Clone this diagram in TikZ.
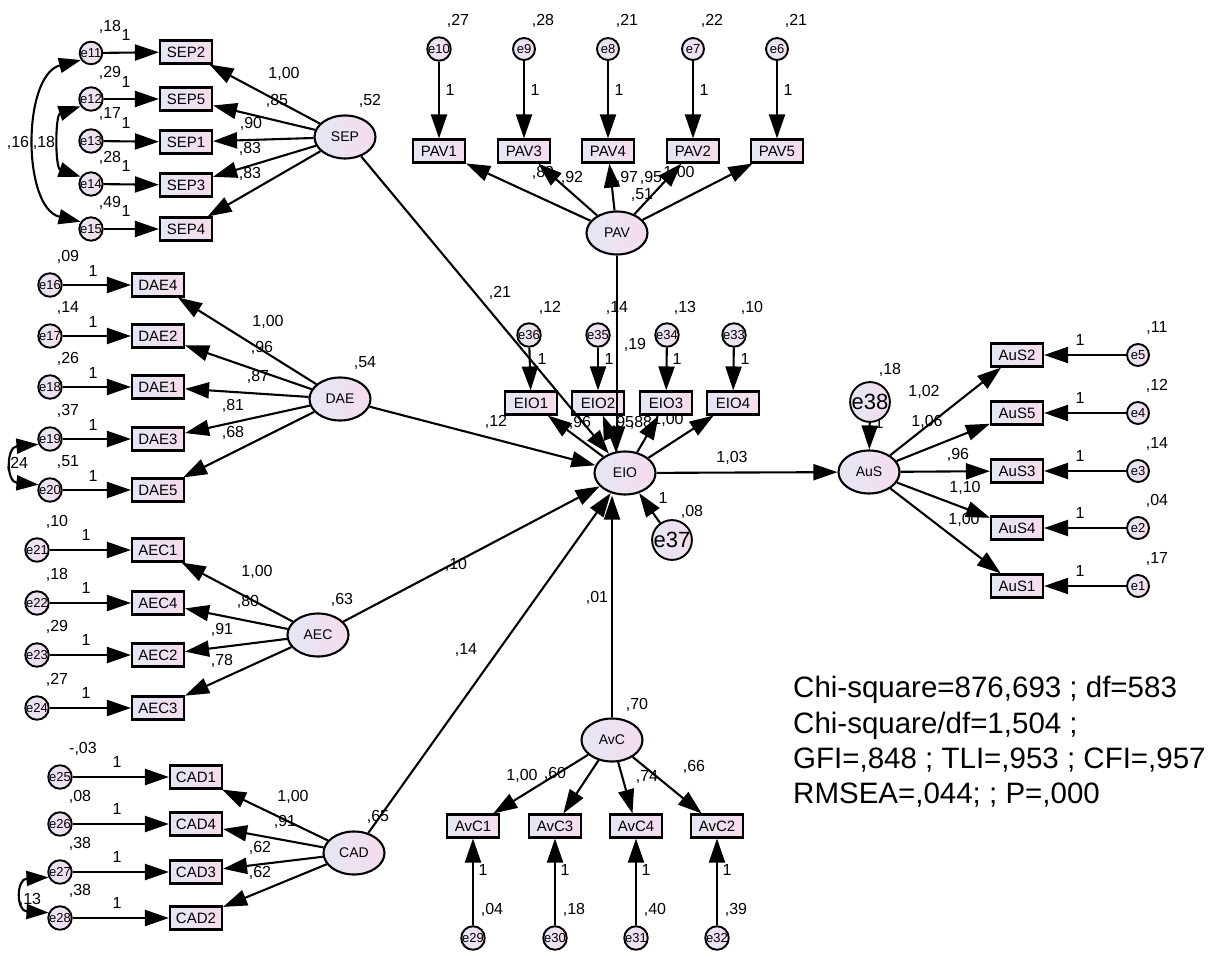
\documentclass[tikz,border=0pt]{standalone}
\usepackage{fontspec}
\setmainfont{Liberation Sans}
\usetikzlibrary{arrows.meta,shapes.geometric}
\definecolor{lc}{RGB}{228,231,244}
\definecolor{rc}{RGB}{245,220,236}
\begin{document}
\begin{tikzpicture}[x=1pt,y=-1pt,
  obs/.style={draw, line width=2.1pt, rectangle, minimum width=52pt, minimum height=23pt, inner sep=0pt, left color=lc, right color=rc, font=\fontsize{15}{15}\selectfont},
  lat/.style={draw, ellipse, line width=2.1pt, minimum width=61pt, minimum height=43pt, inner sep=0pt, left color=lc, right color=rc, font=\fontsize{14}{14}\selectfont},
  err/.style={draw, circle, line width=1.9pt, minimum size=22pt, inner sep=0pt, left color=lc, right color=rc, font=\fontsize{13}{13}\selectfont},
  bigerr/.style={err, minimum size=31pt, font=\fontsize{22}{22}\selectfont},
  lbl/.style={font=\fontsize{16}{16}\selectfont, inner sep=0pt},
  fit/.style={font=\fontsize{29.5}{29.5}\selectfont, inner sep=0pt, anchor=base west},
  path/.style={line width=2.1pt, -{Triangle[length=24pt,width=16pt]}},
  cov/.style={line width=2.1pt, {Triangle[length=22pt,width=15pt]}-{Triangle[length=22pt,width=15pt]}}
]
\fill[white] (0,0) rectangle (1228,957);
\useasboundingbox (0,0) rectangle (1228,957);

% ---------- labels (drawn first so connectors overlap them) ----------
% SEP
\node[lbl] (l1) at (110,27) {,18}; \node[lbl] (l2) at (126,35) {1};
\node[lbl] (l3) at (110,73) {,29}; \node[lbl] (l4) at (126,82) {1};
\node[lbl] (l5) at (110,114) {,17}; \node[lbl] (l6) at (126,123) {1};
\node[lbl] (l7) at (110,158) {,28}; \node[lbl] (l8) at (126,166) {1};
\node[lbl] (l9) at (110,203) {,49}; \node[lbl] (l10) at (126,211) {1};
\node[lbl] (l11) at (284,74) {1,00};
\node[lbl] (l12) at (277,101) {,85};
\node[lbl] (l13) at (251,124) {,90};
\node[lbl] (l14) at (250,149) {,83};
\node[lbl] (l15) at (250,174) {,83};
\node[lbl] (l16) at (370,101) {,52};
\node[lbl] (l17) at (18,143) {,16};
\node[lbl] (l18) at (44,143) {,18};
% PAV
\node[lbl] (p1) at (458,21) {,27}; \node[lbl] (p2) at (450,90) {1};
\node[lbl] (p3) at (543,21) {,28}; \node[lbl] (p4) at (535,90) {1};
\node[lbl] (p5) at (627,21) {,21}; \node[lbl] (p6) at (619,90) {1};
\node[lbl] (p7) at (712,21) {,22}; \node[lbl] (p8) at (704,90) {1};
\node[lbl] (p9) at (796,21) {,21}; \node[lbl] (p10) at (788,90) {1};
\node[lbl] (p11) at (543,173) {,89};
\node[lbl] (p12) at (572,178) {,92};
\node[lbl] (p13) at (627,178) {,97};
\node[lbl] (p14) at (651,178) {,95};
\node[lbl] (p15) at (679,173) {1,00};
\node[lbl] (p16) at (642,195) {,51};
% EIO
\node[lbl] (q1) at (550,308) {,12}; \node[lbl] (q2) at (542,359) {1};
\node[lbl] (q3) at (617,308) {,14}; \node[lbl] (q4) at (609,359) {1};
\node[lbl] (q5) at (685,308) {,13}; \node[lbl] (q6) at (677,359) {1};
\node[lbl] (q7) at (752,308) {,10}; \node[lbl] (q8) at (745,359) {1};
\node[lbl] (q9) at (580,423) {,96};
\node[lbl] (q10) at (623,423) {,95};
\node[lbl] (q11) at (641,423) {,88};
\node[lbl] (q12) at (668,420) {1,00};
\node[lbl] (q13) at (635,345) {,19};
\node[lbl] (q14) at (663,498) {1};
\node[lbl] (q15) at (692,512) {,08};
% structural
\node[lbl] (s1) at (500,293) {,21};
\node[lbl] (s2) at (496,422) {,12};
\node[lbl] (s3) at (456,565) {,10};
\node[lbl] (s4) at (466,650) {,14};
\node[lbl] (s5) at (597,598) {,01};
\node[lbl] (s6) at (732,458) {1,03};
% AuS
\node[lbl] (a1) at (890,370) {,18}; \node[lbl] (a2) at (879,423) {1};
\node[lbl] (a3) at (924,392) {1,02};
\node[lbl] (a4) at (927,422) {1,06};
\node[lbl] (a5) at (958,455) {,96};
\node[lbl] (a6) at (965,488) {1,10};
\node[lbl] (a7) at (964,520) {1,00};
\node[lbl] (a8) at (1157,328) {,11}; \node[lbl] (a9) at (1080,340) {1};
\node[lbl] (a10) at (1157,386) {,12}; \node[lbl] (a11) at (1080,398) {1};
\node[lbl] (a12) at (1157,444) {,14}; \node[lbl] (a13) at (1080,456) {1};
\node[lbl] (a14) at (1157,501) {,04}; \node[lbl] (a15) at (1080,513) {1};
\node[lbl] (a16) at (1157,559) {,17}; \node[lbl] (a17) at (1080,571) {1};
% DAE
\node[lbl] (d1) at (68,257) {,09}; \node[lbl] (d2) at (93,271) {1};
\node[lbl] (d3) at (68,308) {,14}; \node[lbl] (d4) at (93,322) {1};
\node[lbl] (d5) at (68,359) {,26}; \node[lbl] (d6) at (93,373) {1};
\node[lbl] (d7) at (68,411) {,37}; \node[lbl] (d8) at (93,425) {1};
\node[lbl] (d9) at (68,462) {,51}; \node[lbl] (d10) at (93,476) {1};
\node[lbl] (d11) at (268,322) {1,00};
\node[lbl] (d12) at (262,348) {,96};
\node[lbl] (d13) at (258,377) {,87};
\node[lbl] (d14) at (233,406) {,81};
\node[lbl] (d15) at (233,433) {,68};
\node[lbl] (d16) at (365,363) {,54};
\node[lbl] (d17) at (17,464) {,24};
% AEC
\node[lbl] (c1) at (57,522) {,10}; \node[lbl] (c2) at (86,535) {1};
\node[lbl] (c3) at (57,575) {,18}; \node[lbl] (c4) at (86,588) {1};
\node[lbl] (c5) at (57,627) {,29}; \node[lbl] (c6) at (86,640) {1};
\node[lbl] (c7) at (57,680) {,27}; \node[lbl] (c8) at (86,693) {1};
\node[lbl] (c9) at (257,572) {1,00};
\node[lbl] (c10) at (248,602) {,80};
\node[lbl] (c11) at (222,630) {,91};
\node[lbl] (c12) at (222,661) {,78};
\node[lbl] (c13) at (342,600) {,63};
% CAD
\node[lbl] (k1) at (83,749) {-,03}; \node[lbl] (k2) at (117,762) {1};
\node[lbl] (k3) at (80,797) {,08}; \node[lbl] (k4) at (117,809) {1};
\node[lbl] (k5) at (80,844) {,38}; \node[lbl] (k6) at (117,857) {1};
\node[lbl] (k7) at (80,891) {,38}; \node[lbl] (k8) at (117,903) {1};
\node[lbl] (k9) at (293,797) {1,00};
\node[lbl] (k10) at (285,822) {,91};
\node[lbl] (k11) at (260,848) {,62};
\node[lbl] (k12) at (260,873) {,62};
\node[lbl] (k13) at (378,817) {,65};
\node[lbl] (k14) at (30,900) {,13};
% AvC
\node[lbl] (v1) at (522,776) {1,00};
\node[lbl] (v2) at (555,774) {,60};
\node[lbl] (v3) at (647,777) {,74};
\node[lbl] (v4) at (694,767) {,66};
\node[lbl] (v5) at (637,705) {,70};
\node[lbl] (v6) at (483,870) {1}; \node[lbl] (v7) at (492,910) {,04};
\node[lbl] (v8) at (565,870) {1}; \node[lbl] (v9) at (574,910) {,18};
\node[lbl] (v10) at (646,870) {1}; \node[lbl] (v11) at (655,910) {,40};
\node[lbl] (v12) at (727,870) {1}; \node[lbl] (v13) at (736,910) {,39};

% ---------- nodes ----------
% SEP
\node[err] (e11) at (91,53) {e11};
\node[err] (e12) at (91,99) {e12};
\node[err] (e13) at (91,141) {e13};
\node[err] (e14) at (91,184) {e14};
\node[err] (e15) at (91,229) {e15};
\node[obs] (SEP2) at (186,52) {SEP2};
\node[obs] (SEP5) at (186,99) {SEP5};
\node[obs] (SEP1) at (186,142) {SEP1};
\node[obs] (SEP3) at (186,185) {SEP3};
\node[obs] (SEP4) at (186,229) {SEP4};
\node[lat] (SEP) at (345,137) {SEP};
% PAV
\node[err] (e10) at (439,49) {e10};
\node[err] (e9) at (524,49) {e9};
\node[err] (e8) at (608,49) {e8};
\node[err] (e7) at (693,49) {e7};
\node[err] (e6) at (777,49) {e6};
\node[obs] (PAV1) at (439,151) {PAV1};
\node[obs] (PAV3) at (524,151) {PAV3};
\node[obs] (PAV4) at (608,151) {PAV4};
\node[obs] (PAV2) at (693,151) {PAV2};
\node[obs] (PAV5) at (777,151) {PAV5};
\node[lat] (PAV) at (617,233) {PAV};
% EIO
\node[err] (e36) at (529,335) {e36};
\node[err] (e35) at (598,335) {e35};
\node[err] (e34) at (667,335) {e34};
\node[err] (e33) at (734,335) {e33};
\node[obs] (EIO1) at (531,403) {EIO1};
\node[obs] (EIO2) at (598,403) {EIO2};
\node[obs] (EIO3) at (666,403) {EIO3};
\node[obs] (EIO4) at (733,403) {EIO4};
\node[lat] (EIO) at (625,473) {EIO};
\node[bigerr] (e37) at (672,540) {e37};
% AuS
\node[lat] (AuS) at (869,472) {AuS};
\node[bigerr] (e38) at (870,402) {e38};
\node[obs] (AuS2) at (1017,355) {AuS2};
\node[obs] (AuS5) at (1017,413) {AuS5};
\node[obs] (AuS3) at (1017,471) {AuS3};
\node[obs] (AuS4) at (1017,528) {AuS4};
\node[obs] (AuS1) at (1017,586) {AuS1};
\node[err] (e5) at (1138,355) {e5};
\node[err] (e4) at (1138,413) {e4};
\node[err] (e3) at (1138,471) {e3};
\node[err] (e2) at (1138,528) {e2};
\node[err] (e1) at (1138,586) {e1};
% DAE
\node[err] (e16) at (50,285) {e16};
\node[err] (e17) at (50,336) {e17};
\node[err] (e18) at (50,387) {e18};
\node[err] (e19) at (50,439) {e19};
\node[err] (e20) at (50,490) {e20};
\node[obs] (DAE4) at (158,285) {DAE4};
\node[obs] (DAE2) at (158,336) {DAE2};
\node[obs] (DAE1) at (158,387) {DAE1};
\node[obs] (DAE3) at (158,439) {DAE3};
\node[obs] (DAE5) at (158,490) {DAE5};
\node[lat] (DAE) at (340,399) {DAE};
% AEC
\node[err] (e21) at (37,550) {e21};
\node[err] (e22) at (37,603) {e22};
\node[err] (e23) at (37,655) {e23};
\node[err] (e24) at (37,708) {e24};
\node[obs] (AEC1) at (158,550) {AEC1};
\node[obs] (AEC4) at (158,603) {AEC4};
\node[obs] (AEC2) at (158,655) {AEC2};
\node[obs] (AEC3) at (158,708) {AEC3};
\node[lat] (AEC) at (318,635) {AEC};
% CAD
\node[err] (e25) at (60,777) {e25};
\node[err] (e26) at (60,824) {e26};
\node[err] (e27) at (60,872) {e27};
\node[err] (e28) at (60,918) {e28};
\node[obs] (CAD1) at (196,777) {CAD1};
\node[obs] (CAD4) at (196,824) {CAD4};
\node[obs] (CAD3) at (196,872) {CAD3};
\node[obs] (CAD2) at (196,918) {CAD2};
\node[lat] (CAD) at (354,853) {CAD};
% AvC
\node[lat] (AvC) at (612,740) {AvC};
\node[obs] (AvC1) at (473,826) {AvC1};
\node[obs] (AvC3) at (555,826) {AvC3};
\node[obs] (AvC4) at (636,826) {AvC4};
\node[obs] (AvC2) at (717,826) {AvC2};
\node[err] (e29) at (473,938) {e29};
\node[err] (e30) at (555,938) {e30};
\node[err] (e31) at (636,938) {e31};
\node[err] (e32) at (717,938) {e32};

% ---------- connectors ----------
\foreach \a/\b in {e11/SEP2,e12/SEP5,e13/SEP1,e14/SEP3,e15/SEP4,
  e10/PAV1,e9/PAV3,e8/PAV4,e7/PAV2,e6/PAV5,
  e36/EIO1,e35/EIO2,e34/EIO3,e33/EIO4,
  e5/AuS2,e4/AuS5,e3/AuS3,e2/AuS4,e1/AuS1,
  e16/DAE4,e17/DAE2,e18/DAE1,e19/DAE3,e20/DAE5,
  e21/AEC1,e22/AEC4,e23/AEC2,e24/AEC3,
  e25/CAD1,e26/CAD4,e27/CAD3,e28/CAD2,
  e29/AvC1,e30/AvC3,e31/AvC4,e32/AvC2,
  SEP/SEP2,SEP/SEP5,SEP/SEP1,SEP/SEP3,SEP/SEP4,
  PAV/PAV1,PAV/PAV3,PAV/PAV4,PAV/PAV2,PAV/PAV5,
  EIO/EIO1,EIO/EIO2,EIO/EIO3,EIO/EIO4,
  AuS/AuS2,AuS/AuS5,AuS/AuS3,AuS/AuS4,AuS/AuS1,
  DAE/DAE4,DAE/DAE2,DAE/DAE1,DAE/DAE3,DAE/DAE5,
  AEC/AEC1,AEC/AEC4,AEC/AEC2,AEC/AEC3,
  CAD/CAD1,CAD/CAD4,CAD/CAD3,CAD/CAD2,
  AvC/AvC1,AvC/AvC3,AvC/AvC4,AvC/AvC2,
  SEP/EIO,DAE/EIO,AEC/EIO,CAD/EIO,EIO/AuS,e37/EIO,e38/AuS}
  \draw[path] (\a) -- (\b);
\draw[path] (PAV.south) -- (EIO.north -| PAV.south);
\draw[path] (AvC.north) -- (EIO.south -| AvC.north);

% covariances
\draw[cov] (e11.215) .. controls (22,75) and (22,208) .. (e15.145);
\draw[cov] (e12.215) .. controls (55,115) and (55,168) .. (e14.145);
\draw[cov] (e19.205) .. controls (6,447) and (6,482) .. (e20.155);
\draw[cov] (e27.205) .. controls (16,879) and (16,911) .. (e28.155);

% fit indices
\node[fit] (f1) at (793,697) {Chi-square=876,693 ; df=583};
\node[fit] (f2) at (793,733) {Chi-square/df=1,504 ;};
\node[fit] (f3) at (793,768) {GFI=,848 ; TLI=,953 ; CFI=,957};
\node[fit] (f4) at (793,803) {RMSEA=,044; ; P=,000};
\end{tikzpicture}
\end{document}
